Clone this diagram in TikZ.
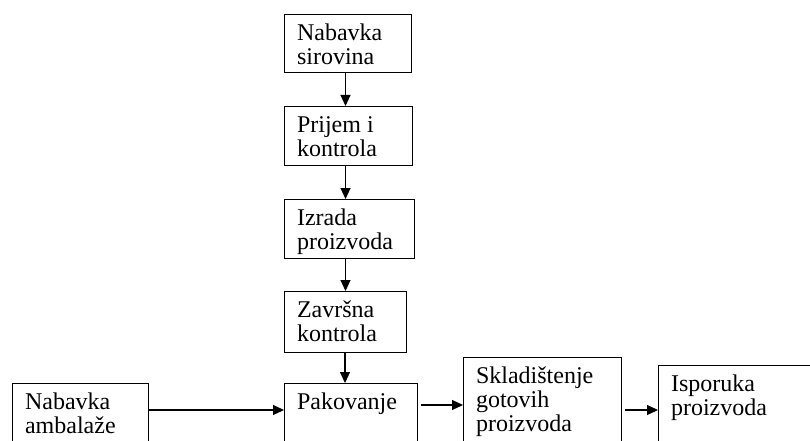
\documentclass[tikz,border=0pt]{standalone}
\usepackage{fontspec}
\setmainfont{Liberation Serif}
\usetikzlibrary{arrows.meta,calc}
\newcommand\boxtxt[3]{\vbox to #2{\hsize=#1\relax\leftskip=12.5pt\rightskip=0pt plus 1fil\parindent=0pt\parfillskip=0pt plus 1fil\vskip 9pt\noindent\strut #3\par\vfil}}
\begin{document}
\begin{tikzpicture}[x=1pt,y=-1pt,
  box/.style={draw, line width=1.1pt, anchor=north west, inner sep=0pt, font=\fontsize{24}{24}\selectfont},
  arr/.style={line width=1.1pt, -{Triangle[length=11pt,width=10pt]}}]
\useasboundingbox (0,0) rectangle (810,441);
\clip (0,0) rectangle (810,441);
\node[box] (b1) at (284,14)  {\boxtxt{127pt}{58pt}{Nabavka\newline sirovina}};
\node[box] (b2) at (284,106) {\boxtxt{128pt}{59pt}{Prijem i\newline kontrola}};
\node[box] (b3) at (284,199) {\boxtxt{130pt}{59pt}{Izrada\newline proizvoda}};
\node[box] (b4) at (284,291) {\boxtxt{122pt}{61pt}{Završna\newline kontrola}};
\node[box] (b5) at (284,383) {\boxtxt{133pt}{100pt}{Pakovanje}};
\node[box] (b0) at (12,383)  {\boxtxt{136pt}{100pt}{Nabavka\newline ambalaže}};
\node[box] (b6) at (463,357) {\boxtxt{158pt}{120pt}{Skladištenje\newline gotovih\newline proizvoda}};
\node[box] (b7) at (658,365) {\boxtxt{200pt}{100pt}{Isporuka\newline proizvoda}};
\draw[arr] ($(b1.south west)+(61.5pt,0)$) -- ($(b2.north west)+(61.5pt,0)$);
\draw[arr] ($(b2.south west)+(61.5pt,0)$) -- ($(b3.north west)+(61.5pt,0)$);
\draw[arr] ($(b3.south west)+(61.5pt,0)$) -- ($(b4.north west)+(61.5pt,0)$);
\draw[arr] ($(b4.south west)+(61pt,0)$) -- ($(b5.north west)+(61pt,0)$);
\coordinate (h1) at ($(b0.north east)+(0pt,-27pt)$);
\coordinate (h2) at ($(b5.north east)+(3pt,-22pt)$);
\coordinate (h3) at ($(b6.north east)+(3pt,-53pt)$);
\draw[arr] (h1) -- (h1 -| b5.west);
\draw[arr] (h2) -- (h2 -| b6.west);
\draw[arr] (h3) -- (h3 -| b7.west);
\end{tikzpicture}
\end{document}
